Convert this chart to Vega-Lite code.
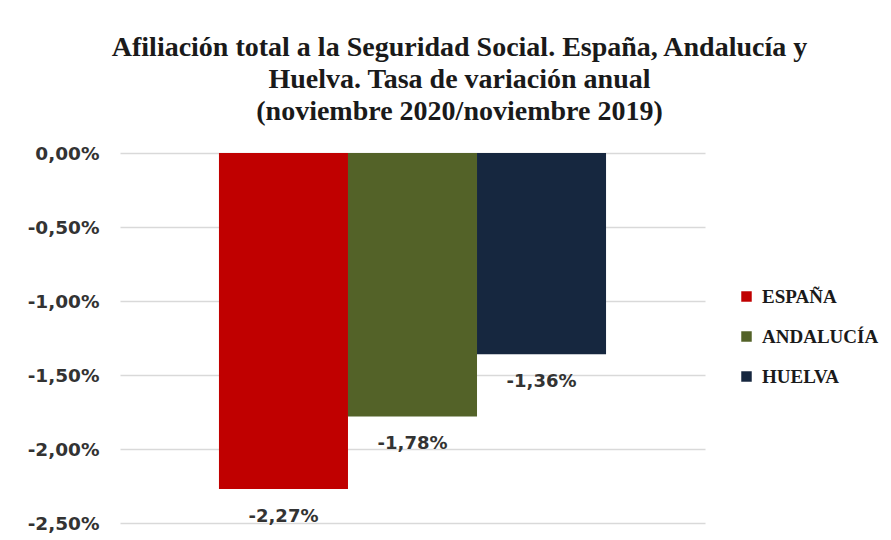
{
  "$schema": "https://vega.github.io/schema/vega-lite/v6.json",
  "width": 585,
  "height": 370,
  "autosize": {"type": "none"},
  "padding": {"left": 120, "top": 153, "right": 186, "bottom": 17},
  "background": "white",
  "config": {
    "locale": {"number": {"decimal": ",", "thousands": ".", "grouping": [3], "currency": ["", " €"], "minus": "-"}},
    "view": {"stroke": null}
  },
  "title": {
    "text": ["Afiliación total a la Seguridad Social. España, Andalucía y", "Huelva. Tasa de variación anual", "(noviembre 2020/noviembre 2019)"],
    "font": "Liberation Serif",
    "fontSize": 28,
    "fontWeight": "bold",
    "color": "#1a1a1a",
    "lineHeight": 32,
    "anchor": "middle",
    "dx": 47,
    "offset": 18
  },
  "data": {
    "values": [
      {"region": "ESPAÑA", "value": -0.0227},
      {"region": "ANDALUCÍA", "value": -0.0178},
      {"region": "HUELVA", "value": -0.0136}
    ]
  },
  "encoding": {
    "x": {
      "field": "region", "type": "nominal", "sort": ["ESPAÑA", "ANDALUCÍA", "HUELVA"],
      "scale": {"paddingInner": 0, "paddingOuter": 0.767},
      "axis": null
    },
    "y": {
      "field": "value", "type": "quantitative",
      "scale": {"domain": [-0.025, 0], "nice": false, "zero": false},
      "axis": {
        "values": [0, -0.005, -0.01, -0.015, -0.02, -0.025],
        "format": ".2%",
        "title": null,
        "domain": false,
        "ticks": false,
        "labelPadding": 21,
        "labelFont": "DejaVu Sans",
        "labelFontSize": 18.5,
        "labelFontWeight": "bold",
        "labelColor": "#333333",
        "gridColor": "#d9d9d9",
        "gridWidth": 1.5
      }
    }
  },
  "layer": [
    {
      "mark": {"type": "bar"},
      "encoding": {
        "color": {
          "field": "region", "type": "nominal", "sort": ["ESPAÑA", "ANDALUCÍA", "HUELVA"],
          "scale": {"domain": ["ESPAÑA", "ANDALUCÍA", "HUELVA"], "range": ["#C00000", "#536228", "#16273F"]},
          "legend": {
            "title": null,
            "orient": "none",
            "legendX": 617,
            "legendY": 134,
            "symbolType": "square",
            "symbolSize": 110,
            "symbolStrokeWidth": 0,
            "labelFont": "Liberation Serif",
            "labelFontSize": 19,
            "labelFontWeight": "bold",
            "labelColor": "#1a1a1a",
            "labelOffset": 6,
            "rowPadding": 20,
            "labelLimit": 300
          }
        }
      }
    },
    {
      "mark": {"type": "text", "baseline": "top", "dy": 19, "font": "DejaVu Sans", "fontSize": 18, "fontWeight": "bold", "color": "#333333"},
      "encoding": {
        "text": {"field": "value", "type": "quantitative", "format": ".2%"}
      }
    }
  ]
}
